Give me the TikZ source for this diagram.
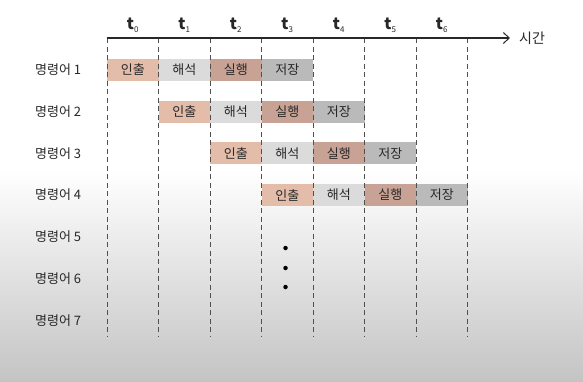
\documentclass[tikz,border=0pt]{standalone}
\usepackage{fontspec}
\setmainfont{Noto Sans CJK KR}
\usetikzlibrary{arrows.meta}
\definecolor{cfetch}{RGB}{228,188,170}
\definecolor{cdecode}{RGB}{219,219,219}
\definecolor{cexec}{RGB}{200,162,148}
\definecolor{cstore}{RGB}{186,186,186}
\definecolor{bgbot}{RGB}{196,196,196}
\definecolor{lineclr}{RGB}{80,80,80}
\definecolor{txt}{RGB}{40,40,40}
\tikzset{
  bar/.style={minimum width=51.5pt, minimum height=22pt, inner sep=0pt, text=txt, font=\fontsize{13}{15}\selectfont},
  rowlabel/.style={anchor=west, inner sep=0pt, text=txt, font=\fontsize{13}{15}\selectfont},
  tlabel/.style={inner sep=0pt, text=txt, font=\fontsize{16}{18}\selectfont\bfseries},
  dashline/.style={draw=lineclr, line width=0.9pt, dash pattern=on 5pt off 3.5pt},
  axisline/.style={draw=txt, line width=1.1pt, -{Straight Barb[length=6pt,width=11pt,line width=1pt]}},
  dotnode/.style={circle, fill=black, inner sep=0pt, minimum size=4.5pt}
}
\newcommand{\tlab}[1]{t\raisebox{-3pt}{\fontsize{8}{8}\selectfont\mdseries #1}}
\begin{document}
\begin{tikzpicture}[x=1pt,y=-1pt]
\useasboundingbox (0,0) rectangle (583,381);
\fill[white] (0,0) rectangle (583,170);
\shade[top color=white, bottom color=bgbot] (0,170) rectangle (583,381);
% bars
\foreach \i in {1,...,4}{
  \foreach \s/\lab/\c in {0/인출/cfetch,1/해석/cdecode,2/실행/cexec,3/저장/cstore}{
    \pgfmathsetmacro{\cx}{107+51.5*(\i-1+\s+0.5)}
    \pgfmathsetmacro{\cy}{70+41.7*(\i-1)}
    \node[bar, fill=\c] (r\i s\s) at (\cx,\cy) {\lab};
  }
}
% dashed lines
\foreach \k in {0,...,7}{
  \pgfmathsetmacro{\lx}{107+51.5*\k}
  \coordinate (top\k) at (\lx,38);
  \coordinate (bot\k) at (\lx,337);
  \draw[dashline] (top\k) -- (bot\k);
}
% axis
\coordinate (ax0) at (107,38);
\coordinate (ax1) at (510,38);
\draw[axisline] (ax0) -- (ax1);
\node[anchor=west, inner sep=0pt, text=txt, font=\fontsize{14}{16}\selectfont] (time) at (519,38) {시간};
% time labels
\foreach \k in {0,...,6}{
  \pgfmathsetmacro{\tx}{107+51.5*(\k+0.5)}
  \node[tlabel] (t\k) at (\tx,25) {\tlab{\k}};
}
% row labels
\foreach \i in {1,...,7}{
  \pgfmathsetmacro{\ry}{70+41.7*(\i-1)}
  \node[rowlabel] (l\i) at (35,\ry) {명령어 \i};
}
% dots
\node[dotnode] (d1) at (285.5,248) {};
\node[dotnode] (d2) at (285.5,268) {};
\node[dotnode] (d3) at (285.5,287) {};
\end{tikzpicture}
\end{document}
